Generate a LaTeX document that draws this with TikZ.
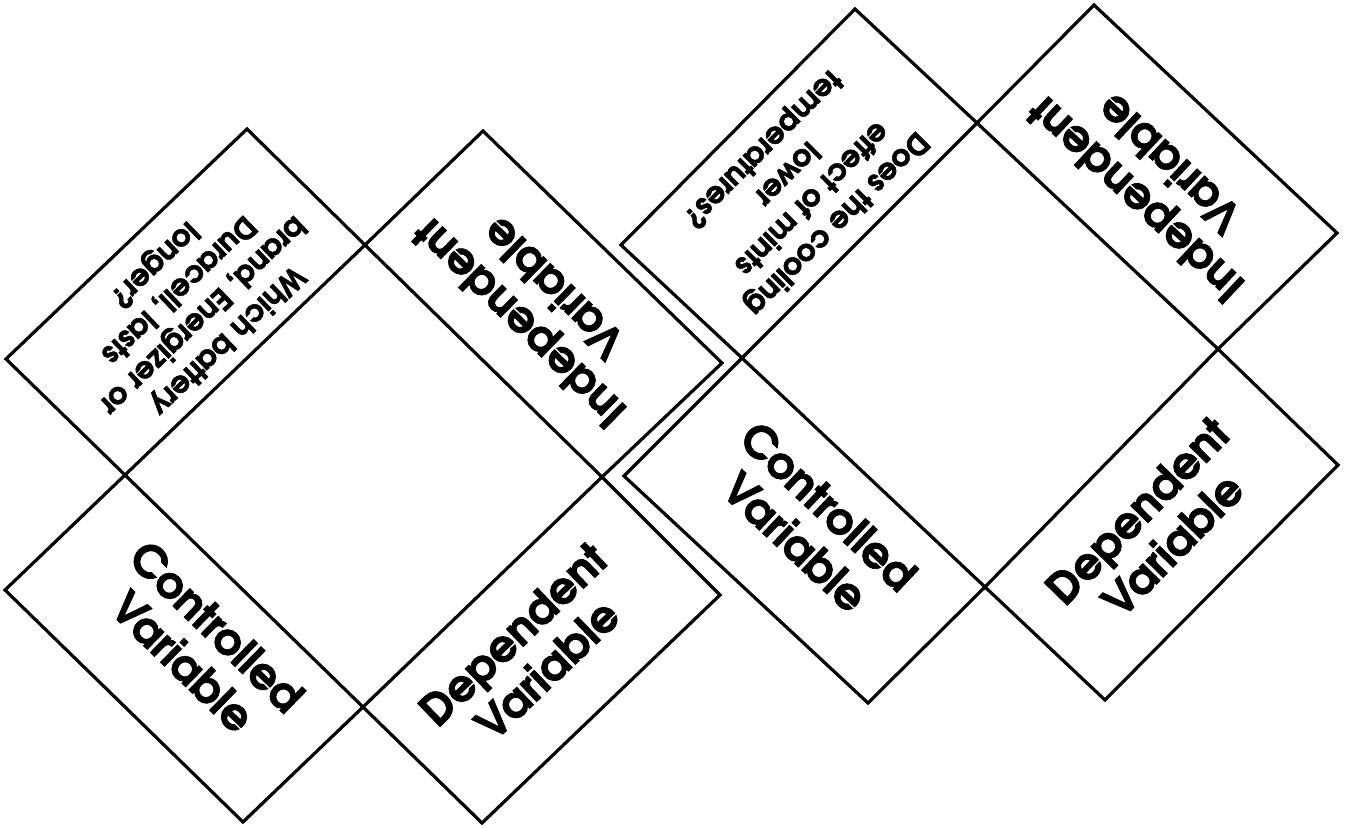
\documentclass[tikz,border=0pt]{standalone}
\usepackage{fontspec}
\newfontfamily\advfont[Extension=.otf, UprightFont=*-regular, BoldFont=*-bold, BoldFeatures={FakeBold=1.6}]{texgyreadventor}
\begin{document}
\begin{tikzpicture}[x=0.5pt,y=-0.5pt, line width=1.6pt, line join=miter,
  flap/.style={draw=black},
  title/.style={font=\advfont\bfseries\fontsize{22}{24.5}\selectfont, align=center, inner sep=0pt},
  question/.style={font=\advfont\bfseries\fontsize{15}{17.5}\selectfont, align=center, inner sep=0pt}]
\useasboundingbox (0,0) rectangle (1351,828);
\fill[white] (0,0) rectangle (1351,828);
% ---------- left foldable ----------
\coordinate (aT) at (365,245);
\coordinate (aR) at (602,477);
\coordinate (aB) at (363,707);
\coordinate (aL) at (125,475);
\coordinate (aQ1) at (247,129);  \coordinate (aQ2) at (6,359);
\coordinate (aI1) at (483,131);  \coordinate (aI2) at (722,363);
\coordinate (aC1) at (5,590);    \coordinate (aC2) at (243,822);
\coordinate (aD1) at (720,595);  \coordinate (aD2) at (482,823);
\draw[flap] (aL) -- (aT) -- (aR) -- (aB) -- cycle;
\draw[flap] (aL) -- (aQ2) -- (aQ1) -- (aT);
\draw[flap] (aT) -- (aI1) -- (aI2) -- (aR);
\draw[flap] (aL) -- (aC1) -- (aC2) -- (aB);
\draw[flap] (aR) -- (aD1) -- (aD2) -- (aB);
\node[question, rotate=223.8] (aq) at (190,302) {Which battery\\brand, Energizer or\\Duracell, lasts\\longer?};
\node[title, rotate=135.6] (ai) at (536,306) {Independent\\Variable};
\node[title, rotate=-44.3] (ac) at (200,644) {Controlled\\Variable};
\node[title, rotate=43.9] (ad) at (530,652) {Dependent\\Variable};
% ---------- right foldable ----------
\coordinate (bT) at (977,123);
\coordinate (bR) at (1218,349);
\coordinate (bB) at (985,587);
\coordinate (bL) at (742,358);
\coordinate (bQ1) at (855,9);     \coordinate (bQ2) at (621,245);
\coordinate (bI1) at (1094,5);    \coordinate (bI2) at (1337,233);
\coordinate (bC1) at (624,476);   \coordinate (bC2) at (868,703);
\coordinate (bD1) at (1338,465);  \coordinate (bD2) at (1105,700);
\draw[flap] (bL) -- (bT) -- (bR) -- (bB) -- cycle;
\draw[flap] (bL) -- (bQ2) -- (bQ1) -- (bT);
\draw[flap] (bT) -- (bI1) -- (bI2) -- (bR);
\draw[flap] (bL) -- (bC1) -- (bC2) -- (bB);
\draw[flap] (bR) -- (bD1) -- (bD2) -- (bB);
\node[question, rotate=225] (bq) at (799,186) {Does the cooling\\effect of mints\\lower\\temperatures?};
\node[title, rotate=136.8] (bi) at (1152,182) {Independent\\Variable};
\node[title, rotate=-43.3] (bc) at (812,524) {Controlled\\Variable};
\node[title, rotate=45.6] (bd) at (1155,528) {Dependent\\Variable};
\end{tikzpicture}
\end{document}
